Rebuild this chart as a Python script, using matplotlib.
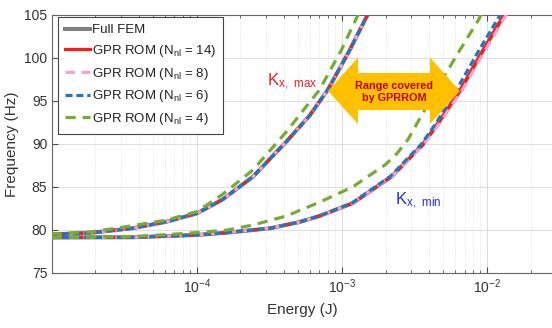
import matplotlib
matplotlib.use("Agg")
import matplotlib.pyplot as plt
from matplotlib.patches import Polygon
from matplotlib.lines import Line2D

plt.rcParams['font.family'] = ['Liberation Sans', 'DejaVu Sans']
plt.rcParams['mathtext.default'] = 'regular'

# ---- backbone curves: energy (J) vs frequency (Hz) ----
# K_x,max branch
e_max = [1.0e-5, 1.9e-5, 3.6e-5, 6.2e-5, 1.0e-4, 1.5e-4, 2.44e-4, 4.14e-4,
         6.0e-4, 8.0e-4, 1.13e-3, 1.5e-3, 1.7e-3]
f_max = [79.45, 79.66, 80.17, 80.94, 81.9, 83.5, 86.18, 90.25,
         93.3, 96.3, 100.9, 105.0, 107.5]
# K_x,min branch (full FEM / ROM 14)
e_min = [1.0e-5, 3.6e-5, 1.0e-4, 1.6e-4, 3.2e-4, 5.1e-4, 7.0e-4, 1.19e-3,
         2.2e-3, 3.6e-3, 4.6e-3, 6.55e-3, 9.4e-3, 1.31e-2, 1.5e-2]
f_min = [79.1, 79.12, 79.39, 79.66, 80.17, 80.9, 81.6, 83.1,
         86.2, 89.9, 92.4, 96.27, 100.9, 105.0, 107.0]
# ROM N_nl = 8, K_x,min branch
e_min_8 = [1.0e-5, 3.6e-5, 1.0e-4, 1.6e-4, 3.2e-4, 5.1e-4, 7.0e-4, 1.19e-3,
           2.2e-3, 3.65e-3, 4.7e-3, 6.75e-3, 9.7e-3, 1.35e-2, 1.55e-2]
# ROM N_nl = 6, K_x,min branch
e_min_6 = [1.0e-5, 3.6e-5, 1.0e-4, 1.6e-4, 3.2e-4, 5.1e-4, 7.0e-4, 1.17e-3,
           2.15e-3, 3.5e-3, 4.45e-3, 6.15e-3, 8.8e-3, 1.23e-2, 1.42e-2]
# ROM N_nl = 4
e_max_4 = [1.0e-5, 1.92e-5, 3.6e-5, 6.2e-5, 1.0e-4, 1.5e-4, 2.44e-4, 4.14e-4,
           5.9e-4, 7.0e-4, 9.9e-4, 1.29e-3, 1.45e-3]
f_max_4 = [79.5, 79.77, 80.47, 81.13, 82.1, 84.1, 86.96, 91.4,
           94.7, 96.27, 100.9, 105.0, 107.5]
e_min_4 = [1.0e-5, 3.6e-5, 8.0e-5, 1.6e-4, 2.44e-4, 4.14e-4, 7.0e-4, 1.19e-3,
           2.0e-3, 2.4e-3, 2.85e-3, 4.03e-3, 6.17e-3, 8.7e-3, 1.0e-2]
f_min_4 = [79.1, 79.2, 79.55, 79.95, 80.55, 81.6, 83.2, 85.0,
           87.6, 88.9, 90.5, 95.0, 100.3, 104.4, 106.5]

labels = ['Full FEM', 'GPR ROM (N$_{nl}$ = 14)', 'GPR ROM (N$_{nl}$ = 8)',
          'GPR ROM (N$_{nl}$ = 6)', 'GPR ROM (N$_{nl}$ = 4)']
c_fem, c_14, c_8, c_6, c_4 = '#808080', '#FF1A1A', '#F7A1CB', '#1F77C0', '#77AC30'

fig = plt.figure(figsize=(5.52, 3.28), dpi=100)
ax = fig.add_axes([0.0946, 0.1686, 0.9054, 0.7857])

lw = 2.3
for e, f in [(e_max, f_max), (e_min, f_min)]:
    ax.semilogx(e, f, color=c_fem, lw=lw + 0.6, zorder=2)
for e, f in [(e_max, f_max), (e_min, f_min)]:
    ax.semilogx(e, f, color=c_14, lw=lw, zorder=3)
for e, f in [(e_max, f_max), (e_min_8, f_min)]:
    ax.semilogx(e, f, color=c_8, lw=lw, dashes=(3, 2), zorder=4)
for e, f in [(e_max, f_max), (e_min_6, f_min)]:
    ax.semilogx(e, f, color=c_6, lw=lw, dashes=(2.2, 1.2), zorder=5)
for e, f in [(e_max_4, f_max_4), (e_min_4, f_min_4)]:
    ax.semilogx(e, f, color=c_4, lw=lw, dashes=(3.2, 2.2), zorder=6)

ax.set_xlim(1.01e-5, 2.8e-2)
ax.set_ylim(75, 105)
ax.set_yticks([75, 80, 85, 90, 95, 100, 105])
ax.set_xticks([1e-4, 1e-3, 1e-2])

ax.grid(True, which='major', color='#DCDCDC', lw=0.7)
ax.grid(True, which='minor', axis='x', color='#DCDCDC', lw=0.6, ls=':')
ax.set_axisbelow(True)
ax.tick_params(which='both', direction='in', top=True, right=False,
               colors='#4D4D4D', labelcolor='#333333', labelsize=10)
ax.tick_params(which='major', length=4)
ax.tick_params(which='minor', length=2)
for s in ['left', 'bottom', 'top']:
    ax.spines[s].set_color('#666666')
    ax.spines[s].set_linewidth(0.8)
ax.spines['right'].set_visible(False)

ax.set_xlabel('Energy (J)', fontsize=11, color='#333333', labelpad=5)
ax.set_ylabel('Frequency (Hz)', fontsize=11, color='#333333', labelpad=4)

# double-headed arrow marking the GPR ROM range (pixel outline -> axes fraction)
def px(x, y):
    return ((x - 52.2) / 499.8, (272.7 - y) / 257.7)

arrow_px = [(328, 91), (358, 57.5), (358, 73), (430, 73), (430, 57.5), (460, 91),
            (430, 124), (430, 110), (358, 110), (358, 124)]
ax.add_patch(Polygon([px(*p) for p in arrow_px], closed=True,
                     transform=ax.transAxes, facecolor='#FFC000',
                     edgecolor='none', zorder=7))
ax.text(*px(394, 92.5), 'Range covered\nby GPRROM', transform=ax.transAxes,
        ha='center', va='center', fontsize=7.8, fontweight='bold',
        color='#C00000', linespacing=1.25, zorder=8)

ax.text(*px(267, 86), 'K$_{x,\\ max}$', transform=ax.transAxes, fontsize=12,
        color='#E8202A', ha='left', va='baseline', zorder=8)
ax.text(*px(395, 205), 'K$_{x,\\ min}$', transform=ax.transAxes, fontsize=12,
        color='#2A2AE0', ha='left', va='baseline', zorder=8)

handles = [Line2D([], [], color=c_fem, lw=lw + 0.6),
           Line2D([], [], color=c_14, lw=lw),
           Line2D([], [], color=c_8, lw=lw, dashes=(3, 2)),
           Line2D([], [], color=c_6, lw=lw, dashes=(2.2, 1.2)),
           Line2D([], [], color=c_4, lw=lw, dashes=(3.2, 2.2))]
leg = ax.legend(handles, labels, loc='upper left', bbox_to_anchor=px(58, 17),
                borderaxespad=0, fontsize=9.5, handlelength=1.9,
                handletextpad=0.1, labelspacing=0.5, borderpad=0.55,
                fancybox=False, framealpha=1, edgecolor='#444444')
leg.get_frame().set_linewidth(0.8)
leg.set_zorder(10)
for t in leg.get_texts():
    t.set_color('#222222')

fig.savefig('out.png', dpi=100)
